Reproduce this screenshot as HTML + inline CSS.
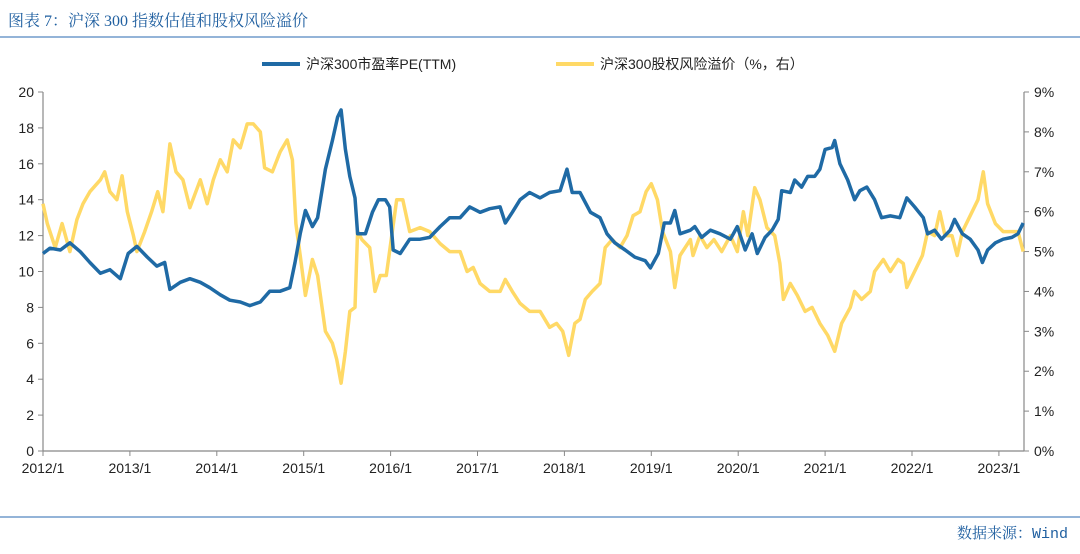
<!DOCTYPE html>
<html><head><meta charset="utf-8">
<style>
body{margin:0;background:#fff;width:1080px;height:549px;overflow:hidden;font-family:"Liberation Sans","Noto Sans CJK SC",sans-serif;}
svg text{font-family:"Liberation Sans","Noto Sans CJK SC",sans-serif;}
</style></head>
<body>
<svg id="chart" width="1080" height="549" viewBox="0 0 1080 549" xmlns="http://www.w3.org/2000/svg">
<text x="8" y="26" font-size="16" fill="#1f5fa0" style="font-family:'Liberation Serif','Noto Serif CJK SC',serif">图表 7：沪深 300 指数估值和股权风险溢价</text>
<line x1="0" y1="37" x2="1080" y2="37" stroke="#2a6ab0" stroke-width="1"/>
<line x1="0" y1="517" x2="1080" y2="517" stroke="#2a6ab0" stroke-width="1"/>
<text x="1068" y="538" font-size="15" fill="#1f5fa0" text-anchor="end" style="font-family:'Liberation Mono','Noto Serif CJK SC',monospace">数据来源：Wind</text>
<g>
<line x1="262" y1="64" x2="300" y2="64" stroke="#1f6aa5" stroke-width="4"/>
<text x="306" y="69" font-size="14" fill="#222">沪深300市盈率PE(TTM)</text>
<line x1="556" y1="64" x2="594" y2="64" stroke="#ffd966" stroke-width="4"/>
<text x="600" y="69" font-size="14" fill="#222">沪深300股权风险溢价（%，右）</text>
</g>
<g id="axes"></g>
<g id="series"></g>
</svg>
<script>
// years since 2012/1
const peDates=[0,.08,.20,.31,.43,.54,.66,.77,.89,.98,1.08,1.20,1.31,1.40,1.46,1.58,1.69,1.81,1.92,2.04,2.15,2.27,2.38,2.50,2.61,2.73,2.84,2.90,2.96,3.02,3.10,3.16,3.25,3.33,3.39,3.43,3.48,3.53,3.59,3.62,3.71,3.79,3.86,3.94,3.99,4.03,4.11,4.22,4.34,4.45,4.57,4.68,4.80,4.91,5.03,5.14,5.26,5.32,5.40,5.49,5.60,5.72,5.83,5.95,6.03,6.09,6.18,6.30,6.41,6.49,6.58,6.70,6.81,6.93,6.99,7.08,7.15,7.22,7.27,7.33,7.45,7.50,7.58,7.68,7.79,7.91,7.99,8.08,8.16,8.22,8.31,8.39,8.46,8.50,8.60,8.65,8.73,8.80,8.88,8.94,9.00,9.08,9.11,9.17,9.26,9.34,9.40,9.48,9.57,9.65,9.75,9.86,9.94,10.03,10.13,10.18,10.26,10.34,10.44,10.49,10.58,10.67,10.76,10.81,10.87,10.96,11.05,11.15,11.22,11.28];
const peValues=[11.0,11.3,11.2,11.6,11.1,10.5,9.9,10.1,9.6,11.0,11.4,10.8,10.3,10.5,9.0,9.4,9.6,9.4,9.1,8.7,8.4,8.3,8.1,8.3,8.9,8.9,9.1,10.5,12.1,13.4,12.5,13.0,15.7,17.3,18.6,19.0,16.8,15.3,14.1,12.1,12.1,13.3,14.0,14.0,13.6,11.2,11.0,11.8,11.8,11.9,12.5,13.0,13.0,13.6,13.3,13.5,13.6,12.7,13.3,14.0,14.4,14.1,14.4,14.5,15.7,14.4,14.4,13.3,13.0,12.1,11.6,11.2,10.8,10.6,10.2,11.0,12.7,12.7,13.4,12.1,12.3,12.5,11.9,12.3,12.1,11.8,12.5,11.2,12.1,11.0,11.9,12.3,12.9,14.5,14.4,15.1,14.7,15.3,15.3,15.7,16.8,16.9,17.3,16.0,15.1,14.0,14.5,14.7,14.0,13.0,13.1,13.0,14.1,13.6,13.0,12.1,12.3,11.8,12.3,12.9,12.1,11.8,11.2,10.5,11.2,11.6,11.8,11.9,12.1,12.7];
const erpDates=[0,.05,.14,.22,.31,.39,.46,.54,.66,.71,.77,.85,.91,.97,1.04,1.08,1.17,1.25,1.32,1.38,1.46,1.53,1.61,1.69,1.81,1.89,1.96,2.04,2.12,2.19,2.27,2.35,2.42,2.50,2.55,2.64,2.73,2.81,2.87,2.91,2.96,3.02,3.10,3.16,3.25,3.33,3.38,3.43,3.48,3.53,3.59,3.62,3.67,3.76,3.82,3.88,3.95,4.02,4.07,4.14,4.22,4.34,4.45,4.57,4.68,4.80,4.88,4.95,5.03,5.14,5.26,5.32,5.40,5.49,5.60,5.72,5.83,5.91,5.98,6.05,6.12,6.18,6.24,6.32,6.41,6.47,6.55,6.64,6.72,6.79,6.87,6.94,7.00,7.07,7.13,7.22,7.27,7.33,7.45,7.48,7.56,7.64,7.72,7.81,7.91,7.99,8.06,8.11,8.19,8.25,8.33,8.42,8.48,8.52,8.60,8.68,8.77,8.85,8.94,9.03,9.11,9.19,9.29,9.34,9.42,9.52,9.57,9.67,9.75,9.84,9.90,9.94,10.03,10.12,10.18,10.26,10.32,10.38,10.46,10.52,10.58,10.67,10.76,10.82,10.87,10.96,11.05,11.15,11.22,11.28];
const erpValues=[6.2,5.7,5.1,5.7,5.0,5.8,6.2,6.5,6.8,7.0,6.5,6.3,6.9,6.0,5.4,5.0,5.5,6.0,6.5,6.0,7.7,7.0,6.8,6.1,6.8,6.2,6.8,7.3,7.0,7.8,7.6,8.2,8.2,8.0,7.1,7.0,7.5,7.8,7.3,5.7,4.9,3.9,4.8,4.4,3.0,2.7,2.3,1.7,2.5,3.5,3.6,5.5,5.3,5.1,4.0,4.4,4.4,5.5,6.3,6.3,5.5,5.6,5.5,5.2,5.0,5.0,4.5,4.6,4.2,4.0,4.0,4.3,4.0,3.7,3.5,3.5,3.1,3.2,3.0,2.4,3.2,3.3,3.8,4.0,4.2,5.1,5.3,5.1,5.4,5.9,6.0,6.5,6.7,6.3,5.5,5.0,4.1,4.9,5.3,4.9,5.4,5.1,5.3,5.0,5.4,5.0,6.0,5.4,6.6,6.3,5.6,5.4,4.7,3.8,4.2,3.9,3.5,3.6,3.2,2.9,2.5,3.2,3.6,4.0,3.8,4.0,4.5,4.8,4.5,4.8,4.7,4.1,4.5,4.9,5.5,5.4,6.0,5.4,5.4,4.9,5.5,5.9,6.3,7.0,6.2,5.7,5.5,5.5,5.5,5.0];
const xTickLabels=["2012/1","2013/1","2014/1","2015/1","2016/1","2017/1","2018/1","2019/1","2020/1","2021/1","2022/1","2023/1"];
const leftTicks=[0,2,4,6,8,10,12,14,16,18,20];
const rightTicks=[0,1,2,3,4,5,6,7,8,9];

const NS="http://www.w3.org/2000/svg";
const X0=43,X1=1024,Y0=451,Y1=92,YEARPX=86.9;
const xs=d=>X0+d*YEARPX;
const yL=v=>Y0-(v/20)*(Y0-Y1);
const yR=v=>Y0-(v/9)*(Y0-Y1);
function mk(tag,attrs,parent){const e=document.createElementNS(NS,tag);for(const k in attrs)e.setAttribute(k,attrs[k]);parent.appendChild(e);return e;}
const axes=document.getElementById('axes'),series=document.getElementById('series');
let e;
e=mk('line',{x1:X0,y1:Y1,x2:X0,y2:Y0,stroke:'#888','stroke-width':1.2},axes);


e=mk('line',{x1:X1,y1:Y1,x2:X1,y2:Y0,stroke:'#888','stroke-width':1.2},axes);


e=mk('line',{x1:X0,y1:Y0,x2:X1,y2:Y0,stroke:'#888','stroke-width':1.2},axes);


leftTicks.forEach(v=>{const y=yL(v);
 mk('line',{x1:X0-5,y1:y,x2:X0,y2:y,stroke:'#888'},axes);
 e=mk('text',{x:X0-9,y:y+5,'font-size':14,'text-anchor':'end',fill:'#222'},axes);e.textContent=v;
 
 });
rightTicks.forEach(v=>{const y=yR(v);
 mk('line',{x1:X1,y1:y,x2:X1+5,y2:y,stroke:'#888'},axes);
 e=mk('text',{x:X1+10,y:y+5,'font-size':14,'text-anchor':'start',fill:'#222'},axes);e.textContent=v+'%';
 
 });
xTickLabels.forEach((t,i)=>{const x=xs(i);
 mk('line',{x1:x,y1:Y0,x2:x,y2:Y0+5,stroke:'#888'},axes);
 e=mk('text',{x:x,y:Y0+22,'font-size':14,'text-anchor':'middle',fill:'#222'},axes);e.textContent=t;
 
 });
function path(dates,vals,yf){return dates.map((d,i)=>(i?'L':'M')+xs(d).toFixed(1)+','+yf(vals[i]).toFixed(1)).join('');}
e=mk('path',{d:path(erpDates,erpValues,yR),fill:'none',stroke:'#ffd966','stroke-width':3.5,'stroke-linejoin':'round'},series);


e=mk('path',{d:path(peDates,peValues,yL),fill:'none',stroke:'#1f6aa5','stroke-width':3.5,'stroke-linejoin':'round'},series);


</script>
</body></html>
